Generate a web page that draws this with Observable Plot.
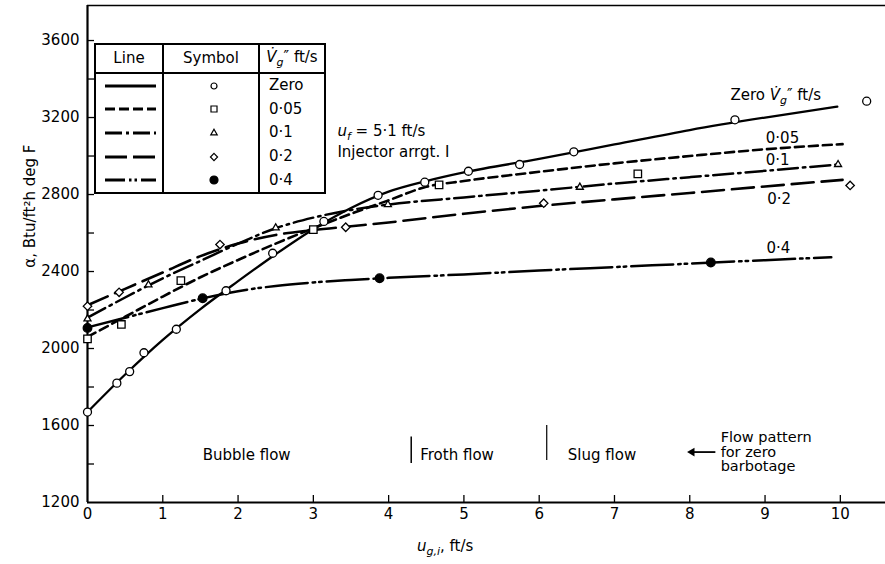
<!DOCTYPE html>
<html>
<head>
<meta charset="utf-8">
<script src="https://cdn.jsdelivr.net/npm/d3@7"></script>
<script src="https://cdn.jsdelivr.net/npm/@observablehq/plot@0.6"></script>
<style>
  body { margin: 0; background: #fff; }
  #chart { position: relative; width: 885px; height: 564px; font-family: "DejaVu Sans", sans-serif; color: #000; }
  #chart svg { display: block; }
  #legend { position: absolute; left: 94px; top: 43px; border-collapse: collapse; border: 2px solid #000;
            background: #fff; font-size: 15px; line-height: 1; }
  #legend th, #legend td { border-left: 2px solid #000; border-right: 2px solid #000; padding: 0; vertical-align: middle; }
  #legend th { height: 27px; border-bottom: 2px solid #000; font-weight: normal; }
  #legend td { height: 23.6px; }
  #legend .c1 { width: 66px; }
  #legend .c2 { width: 94px; text-align: center; }
  #legend .c3 { width: 64px; }
  #legend td.c3 { padding-left: 9px; width: 55px; }
  #legend svg { display: block; }
  #legend sub { font-size: 11px; }
</style>
</head>
<body>
<div id="chart"></div>
<script>
// Heat transfer coefficient α (Btu/ft²h degF) against gas velocity u_g,i (ft/s),
// one series per barbotage velocity V̇g″ (ft/s).
const series = ["Zero", "0·05", "0·1", "0·2", "0·4"];

// Measured points
const zeroPtsX = [0, 0.39, 0.56, 0.75, 1.18, 1.84, 2.46, 3.14, 3.86, 4.48, 5.06, 5.74, 6.46, 8.60, 10.35];
const zeroPtsY = [1670, 1820, 1880, 1978, 2100, 2300, 2495, 2660, 2796, 2864, 2921, 2956, 3022, 3188, 3285];
const p05PtsX = [0, 0.45, 1.24, 3.0, 4.67, 7.31];
const p05PtsY = [2050, 2125, 2353, 2618, 2850, 2907];
const p1PtsX = [0, 0.81, 2.5, 3.99, 6.54, 9.97];
const p1PtsY = [2154, 2331, 2627, 2748, 2838, 2956];
const p2PtsX = [0, 0.42, 1.76, 3.43, 6.06, 10.13];
const p2PtsY = [2220, 2292, 2540, 2630, 2755, 2847];
const p4PtsX = [0, 1.53, 3.88, 8.28];
const p4PtsY = [2107, 2261, 2365, 2447];

// Smoothed correlation curves
const zeroCurveX = [0, 0.5, 1, 1.5, 2, 2.5, 3, 3.5, 4, 4.5, 5, 6, 7, 8, 9, 9.96];
const zeroCurveY = [1670, 1865, 2045, 2205, 2350, 2490, 2620, 2730, 2815, 2870, 2915, 2985, 3060, 3135, 3200, 3257];
const c05CurveX = [0, 0.5, 1, 1.5, 2, 2.5, 3, 3.5, 4, 4.5, 5, 6, 7, 8, 9, 10.03];
const c05CurveY = [2060, 2165, 2270, 2370, 2460, 2545, 2625, 2700, 2770, 2840, 2870, 2918, 2962, 3000, 3035, 3062];
const c1CurveX = [0, 0.5, 1, 1.5, 2, 2.5, 3, 3.5, 4, 5, 6, 7, 8, 9, 9.97];
const c1CurveY = [2160, 2265, 2365, 2455, 2545, 2625, 2680, 2720, 2748, 2785, 2820, 2857, 2890, 2923, 2956];
const c2CurveX = [0, 0.5, 1, 1.5, 2, 2.5, 3, 3.5, 4, 5, 6, 7, 8, 9, 10.03];
const c2CurveY = [2225, 2310, 2395, 2480, 2545, 2590, 2615, 2635, 2655, 2700, 2740, 2775, 2808, 2842, 2876];
const c4CurveX = [0, 0.5, 1, 1.5, 2, 2.5, 3, 3.5, 4, 5, 6, 7, 8, 9, 9.88];
const c4CurveY = [2110, 2160, 2210, 2258, 2298, 2325, 2343, 2356, 2367, 2385, 2405, 2423, 2441, 2459, 2474];

// Axis ticks
const xTicks = [0, 1, 2, 3, 4, 5, 6, 7, 8, 9, 10];
const yTicks = [1200, 1600, 2000, 2400, 2800, 3200, 3600];
const yMinorTicks = [1400, 1600, 1800, 2000, 2200, 2400, 2600, 2800, 3000, 3200, 3400, 3600];

// Right-hand curve labels
const curveLabels = ["Zero *V̇*_{g}″ ft/s", "0·05", "0·1", "0·2", "0·4"];

const pointsX = [zeroPtsX, p05PtsX, p1PtsX, p2PtsX, p4PtsX];
const pointsY = [zeroPtsY, p05PtsY, p1PtsY, p2PtsY, p4PtsY];
const curvesX = [zeroCurveX, c05CurveX, c1CurveX, c2CurveX, c4CurveX];
const curvesY = [zeroCurveY, c05CurveY, c1CurveY, c2CurveY, c4CurveY];

// Drawing style for each series
const look = {
  "Zero": {dash: null, width: 2.3, symbol: "circle", r: 4, fill: "white", legendDash: null, legendR: 3},
  "0·05": {dash: "9,5", width: 2.6, symbol: "square", r: 4.2, fill: "white", legendDash: "10,4", legendR: 3.4},
  "0·1": {dash: "20,5,2.5,5", width: 2.5, symbol: "triangle", r: 2.6, fill: "white", legendDash: "17,4,3,4", legendR: 2.4},
  "0·2": {dash: "22,8", width: 2.6, symbol: "diamond2", r: 3.8, fill: "white", legendDash: "22,6", legendR: 3.2},
  "0·4": {dash: "42,5,2.5,4,2.5,5", width: 2.5, symbol: "circle", r: 4.3, fill: "black", legendDash: "20,4,2.5,3,2.5,4", legendR: 4}
};
const labelPos = [[8.54, 3314], [9.01, 3091], [9.01, 2977], [9.03, 2774], [9.02, 2519]];

const font = '"DejaVu Sans", sans-serif';

const lineMarks = series.map((s, i) =>
  Plot.line(curvesX[i].map((x, j) => ({x, y: curvesY[i][j]})), {
    x: "x", y: "y", curve: "monotone-x", stroke: "black",
    strokeWidth: look[s].width, strokeDasharray: look[s].dash
  })
);
const dotMarks = series.map((s, i) =>
  Plot.dot(pointsX[i].map((x, j) => ({x, y: pointsY[i][j]})), {
    x: "x", y: "y", symbol: look[s].symbol, r: look[s].r,
    fill: look[s].fill, stroke: "black", strokeWidth: 1.3
  })
);
const labelMarks = series.map((s, i) =>
  Plot.text([curveLabels[i]], {
    text: d => d, x: labelPos[i][0], y: labelPos[i][1],
    textAnchor: "start", fontSize: 15
  })
);

const svg = Plot.plot({
  width: 885,
  height: 564,
  marginLeft: 87,
  marginRight: 0,
  marginTop: 5,
  marginBottom: 62,
  x: {domain: [0, 10.6], label: null},
  y: {domain: [1200, 3782], label: null},
  style: {fontFamily: font, fontSize: "15px", background: "white", color: "black", overflow: "visible"},
  marks: [
    // inward ticks
    Plot.axisY({ticks: yMinorTicks, tickSize: 7, dx: 7, tickFormat: () => "", label: null, strokeWidth: 1.3}),
    Plot.axisX({ticks: xTicks.slice(1), tickSize: 7, dy: -7, tickFormat: () => "", label: null, strokeWidth: 1.3}),
    // tick labels
    Plot.axisY({ticks: yTicks, tickSize: 0, tickPadding: 8, tickFormat: d => String(d), label: null}),
    Plot.axisX({ticks: xTicks, tickSize: 0, tickPadding: 6, tickFormat: d => String(d), label: null}),
    // axis lines and top border
    Plot.ruleX([0], {strokeWidth: 2.2}),
    Plot.ruleY([1200], {strokeWidth: 2.2}),
    Plot.ruleY([3782], {strokeWidth: 1.6}),
    ...lineMarks,
    ...dotMarks,
    ...labelMarks,
    // test conditions
    Plot.text(["*u*_{f} = 5·1 ft/s"], {text: d => d, x: 3.32, y: 3127, textAnchor: "start", fontSize: 15}),
    Plot.text(["Injector arrgt. I"], {text: d => d, x: 3.32, y: 3018, textAnchor: "start", fontSize: 15}),
    // flow pattern regions
    Plot.ruleX([4.30], {y1: 1403, y2: 1540, strokeWidth: 1.5}),
    Plot.ruleX([6.10], {y1: 1418, y2: 1600, strokeWidth: 1.2}),
    Plot.text(["Bubble flow"], {text: d => d, x: 1.53, y: 1444, textAnchor: "start", fontSize: 15}),
    Plot.text(["Froth flow"], {text: d => d, x: 4.42, y: 1444, textAnchor: "start", fontSize: 15}),
    Plot.text(["Slug flow"], {text: d => d, x: 6.38, y: 1444, textAnchor: "start", fontSize: 15}),
    Plot.link([0], {x1: 8.34, x2: 8.05, y1: 1462, y2: 1462, strokeWidth: 1.8}),
    Plot.dot([0], {x: 8.03, y: 1462, symbol: "triangle", r: 3.2, rotate: -90, fill: "black", stroke: null}),
    Plot.text(["Flow pattern\nfor zero\nbarbotage"], {
      text: d => d, x: 8.41, y: 1462, textAnchor: "start", lineAnchor: "middle", lineHeight: 1.0, fontSize: 14.5
    }),
    // axis titles
    Plot.text(["α, Btu/ft²h deg F"], {text: d => d, y: 2420, frameAnchor: "left", dx: -57, rotate: -90, fontSize: 15}),
    Plot.text(["*u*_{g,i}, ft/s"], {text: d => d, x: 4.75, frameAnchor: "bottom", dy: 48, fontSize: 15})
  ]
});

// Italic (*…*) and subscript (_{…}) spans inside single-line labels
const svgNS = "http://www.w3.org/2000/svg";
d3.select(svg).selectAll("text").each(function () {
  if (this.querySelector("tspan")) return;
  const src = this.textContent;
  if (!/\*|_\{/.test(src)) return;
  this.textContent = "";
  let lowered = false;
  for (const part of src.split(/(\*[^*]+\*|_\{[^}]+\})/).filter(p => p)) {
    const t = document.createElementNS(svgNS, "tspan");
    if (part.startsWith("_{")) {
      t.textContent = part.slice(2, -1);
      t.setAttribute("font-style", "italic");
      t.setAttribute("font-size", "11");
      t.setAttribute("dy", "4");
      lowered = true;
    } else {
      if (part.startsWith("*")) {
        t.textContent = part.slice(1, -1);
        t.setAttribute("font-style", "italic");
      } else {
        t.textContent = part;
      }
      if (lowered) { t.setAttribute("dy", "-4"); lowered = false; }
    }
    this.appendChild(t);
  }
});

const chart = document.getElementById("chart");
chart.appendChild(svg);

// Key table: line style, symbol and barbotage velocity
const table = d3.select(chart).append("table").attr("id", "legend");
const head = table.append("tr");
head.append("th").attr("class", "c1").text("Line");
head.append("th").attr("class", "c2").text("Symbol");
head.append("th").attr("class", "c3").html("<i>V&#775;</i><sub><i>g</i></sub>″ ft/s");

const symbolOf = {circle: d3.symbolCircle, square: d3.symbolSquare, triangle: d3.symbolTriangle, diamond2: d3.symbolDiamond2};
for (const s of series) {
  const st = look[s];
  const row = table.append("tr");
  const sample = row.append("td").attr("class", "c1").append("svg").attr("width", 66).attr("height", 10);
  sample.append("line").attr("x1", 9).attr("x2", 60).attr("y1", 5).attr("y2", 5)
    .attr("stroke", "black").attr("stroke-width", 3).attr("stroke-dasharray", st.legendDash);
  const mark = row.append("td").attr("class", "c2").append("svg").attr("width", 94).attr("height", 12);
  mark.append("path")
    .attr("transform", "translate(50,6)")
    .attr("d", d3.symbol(symbolOf[st.symbol], Math.PI * st.legendR * st.legendR)())
    .attr("fill", st.fill).attr("stroke", "black").attr("stroke-width", 1.2);
  row.append("td").attr("class", "c3").text(s);
}
</script>
</body>
</html>
